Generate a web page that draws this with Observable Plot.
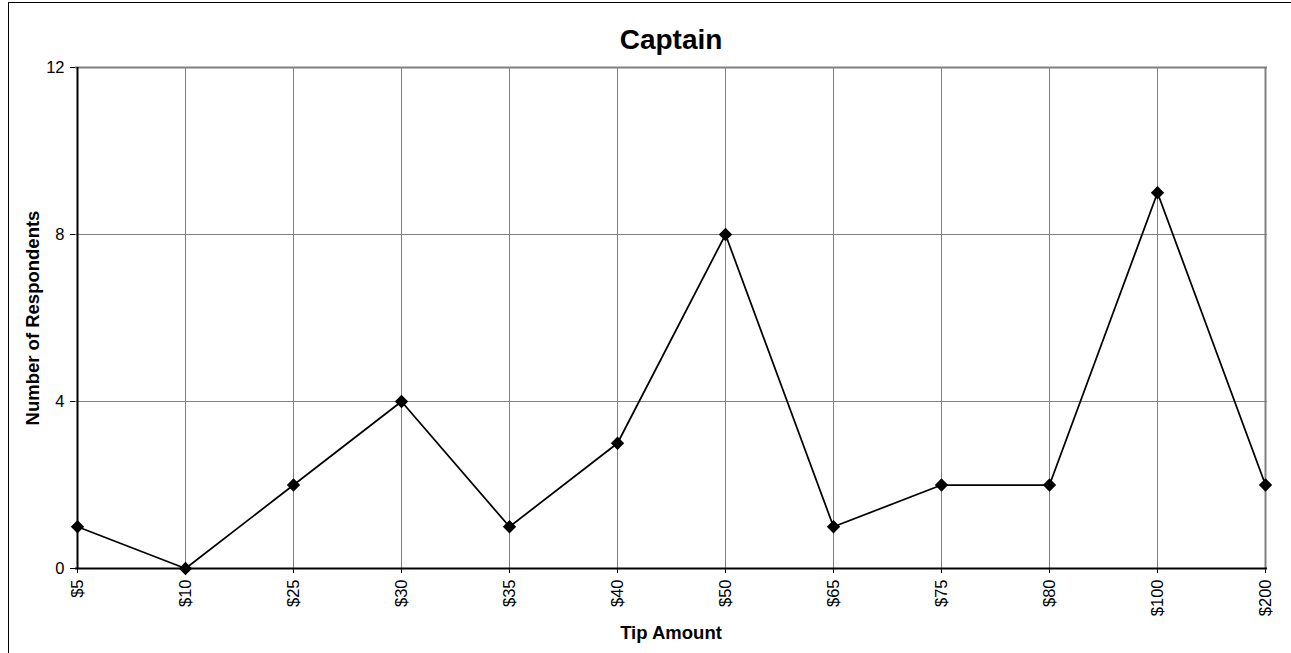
<!DOCTYPE html>
<html>
<head>
<meta charset="utf-8">
<script src="https://cdn.jsdelivr.net/npm/d3@7"></script>
<script src="https://cdn.jsdelivr.net/npm/@observablehq/plot@0.6"></script>
<style>
  html, body { margin: 0; padding: 0; background: #fff; }
  #wrap { position: relative; width: 1291px; height: 653px; overflow: hidden; font-family: "Liberation Sans", Arial, sans-serif; }
  #border { position: absolute; left: 8px; top: 2px; width: 1400px; height: 800px; border: 1.5px solid #000; box-sizing: border-box; }
  .t { position: absolute; font-weight: bold; color: #000; white-space: nowrap; line-height: 1; }
  #title { left: 671px; top: 40px; transform: translate(-50%, -50%); font-size: 28px; }
  #xtitle { left: 671px; top: 633px; transform: translate(-50%, -50%); font-size: 18.5px; }
  #ytitle { left: 33px; top: 318px; transform: translate(-50%, -50%) rotate(-90deg); font-size: 18.5px; }
  svg { position: absolute; left: 0; top: 0; }
  #chart svg text { font-size: 16.5px; }
</style>
</head>
<body>
<div id="wrap">
  <div id="border"></div>
  <div id="chart"></div>
  <div class="t" id="title">Captain</div>
  <div class="t" id="xtitle">Tip Amount</div>
  <div class="t" id="ytitle">Number of Respondents</div>
</div>
<script>
const tipAmounts = ["$5", "$10", "$25", "$30", "$35", "$40", "$50", "$65", "$75", "$80", "$100", "$200"];
const respondents = [1, 0, 2, 4, 1, 3, 8, 1, 2, 2, 9, 2];
const yTicks = [0, 4, 8, 12];

const data = tipAmounts.map((t, i) => ({tip: t, n: respondents[i]}));

const chart = Plot.plot({
  width: 1291,
  height: 653,
  marginLeft: 75,
  marginRight: 24,
  marginTop: 67,
  marginBottom: 85,
  style: {fontFamily: "'Liberation Sans', Arial, sans-serif", fontSize: "16.5px", background: "transparent", color: "#000"},
  x: {type: "point", domain: tipAmounts, padding: 0, label: null},
  y: {domain: [0, 12], label: null},
  marks: [
    Plot.gridX(tipAmounts, {stroke: "#808080", strokeOpacity: 1, strokeWidth: 1}),
    Plot.gridY(yTicks, {stroke: "#808080", strokeOpacity: 1, strokeWidth: 1}),
    Plot.ruleY([12], {stroke: "#808080", strokeWidth: 2}),
    Plot.ruleX([tipAmounts[tipAmounts.length - 1]], {stroke: "#808080", strokeWidth: 2}),
    Plot.ruleX([tipAmounts[0]], {stroke: "#000", strokeWidth: 2}),
    Plot.ruleY([0], {stroke: "#000", strokeWidth: 2}),
    Plot.axisY({ticks: yTicks, tickSize: 5, tickPadding: 6, label: null, fontSize: 16.5, stroke: "#000"}),
    Plot.axisX({tickSize: 5, tickPadding: 6, tickRotate: -90, label: null, fontSize: 16.5, stroke: "#000"}),
    Plot.line(data, {x: "tip", y: "n", stroke: "#000", strokeWidth: 1.75}),
    Plot.dot(data, {x: "tip", y: "n", symbol: "diamond2", r: 6, fill: "#000", stroke: "none"})
  ]
});
document.getElementById("chart").appendChild(chart);
</script>
</body>
</html>
